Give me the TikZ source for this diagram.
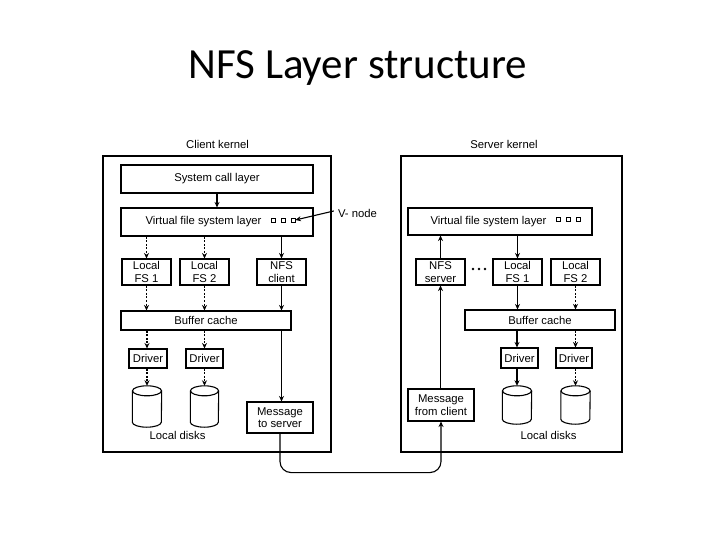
\documentclass[tikz,border=0pt]{standalone}
\usepackage{fontspec}
\setmainfont{Liberation Sans}
\newfontfamily\titlefont{Carlito}
\usetikzlibrary{arrows.meta,calc}
\newcommand\dfont{\fontsize{11.3}{12.5}\selectfont}
\newcommand\drawdisk[2]{%
  \draw[line width=1.1pt] ($(#1.north)+(0,5)$) ellipse [x radius=#2pt, y radius=5pt];
  \draw[line width=1.1pt] ($(#1.north west)+(0,5)$) -- ($(#1.south west)+(0,-5)$)
     arc [start angle=180, end angle=360, x radius=#2pt, y radius=5pt] -- ($(#1.north east)+(0,5)$);}
\begin{document}
\begin{tikzpicture}[x=1pt,y=-1pt,
  box/.style={draw, line width=1.1pt, inner sep=0pt, align=center, font=\dfont},
  kernel/.style={draw, line width=1.3pt, inner sep=0pt},
  txt/.style={inner sep=0pt, font=\dfont, anchor=base},
  disk/.style={inner sep=0pt},
  sq/.style={draw, line width=0.9pt, minimum width=4pt, minimum height=4pt, inner sep=0pt},
  arr/.style={-{Stealth[length=5.5pt,width=5pt]}, line width=1.1pt},
  darr/.style={arr, dash pattern=on 2pt off 1.6pt}]
\useasboundingbox[fill=white] (0,0) rectangle (720,540);

% title
\node[inner sep=0pt, anchor=base, font=\titlefont\fontsize{43}{50}\selectfont] (title) at (358,79) {NFS Layer structure};

% ---------------- client ----------------
\node[kernel, minimum width=228pt, minimum height=296pt] (ck) at (217,304) {};
\node[txt] (ckl) at (217.5,149) {Client kernel};
\node[box, minimum width=192pt, minimum height=28pt] (sys) at (217,179) {System call layer};
\node[box, minimum width=192pt, minimum height=28pt] (vfs) at (217,222) {};
\node[txt] (vfst) at (203.5,225) {Virtual file system layer};
\node[sq] (c1) at (273,220) {};
\node[sq] (c2) at (283,220) {};
\node[sq] (c3) at (293,220) {};
\node[txt] (vnode) at (357.5,218) {V- node};
\node[box, minimum width=49pt, minimum height=26pt] (lfs1) at (146.5,272) {Local\\FS 1};
\node[box, minimum width=49pt, minimum height=26pt] (lfs2) at (204.5,272) {Local\\FS 2};
\node[box, minimum width=49pt, minimum height=26pt] (nfsc) at (281.5,272) {NFS\\client};
\node[box, minimum width=170pt, minimum height=19pt] (buf) at (206,320.5) {Buffer cache};
\node[box, minimum width=38pt, minimum height=19pt] (drv1) at (148,358.5) {Driver};
\node[box, minimum width=37pt, minimum height=19pt] (drv2) at (204.5,358.5) {Driver};
\node[disk, minimum width=29pt, minimum height=41pt] (dk1) at (147,406.5) {};
\node[disk, minimum width=28pt, minimum height=41pt] (dk2) at (204.5,406.5) {};
\drawdisk{dk1}{14.5}
\drawdisk{dk2}{14}
\node[txt] (cld) at (177.5,439) {Local disks};
\node[box, minimum width=66pt, minimum height=31pt] (msgs) at (280,417.5) {Message\\to server};

\draw[arr] (sys.south) -- (vfs.north);
\draw[arr] ($(vnode.west)+(-4,-3)$) -- (c3.east);
\draw[darr] (lfs1.north |- vfs.south) -- (lfs1.north);
\draw[darr] (lfs2.north |- vfs.south) -- (lfs2.north);
\draw[arr] (nfsc.north |- vfs.south) -- (nfsc.north);
\draw[darr] (lfs1.south) -- (lfs1.south |- buf.north);
\draw[darr] (lfs2.south) -- (lfs2.south |- buf.north);
\draw[arr] (nfsc.south) -- (nfsc.south |- buf.north);
\draw[arr] (nfsc.south |- buf.south) -- (nfsc.south |- msgs.north);
\draw[darr] (dk1.north |- buf.south) -- (dk1.north |- drv1.north);
\draw[darr] (dk2.north |- buf.south) -- (dk2.north |- drv2.north);
\draw[darr] (dk1.north |- drv1.south) -- (dk1.north);
\draw[darr] (dk2.north |- drv2.south) -- (dk2.north);

% ---------------- server ----------------
\node[kernel, minimum width=221pt, minimum height=296pt] (sk) at (511.5,304) {};
\node[txt] (skl) at (504,149) {Server kernel};
\node[box, minimum width=184pt, minimum height=27pt] (svfs) at (500,221.5) {};
\node[txt] (svfst) at (488.5,225) {Virtual file system layer};
\node[sq] (s1) at (558,219) {};
\node[sq] (s2) at (568,219) {};
\node[sq] (s3) at (578,219) {};
\node[box, minimum width=49pt, minimum height=26pt] (nfss) at (440.5,272) {NFS\\server};
\node[inner sep=0pt, minimum width=14pt, minimum height=4pt] (dots) at (479,269) {};
\foreach \dx in {-6,0,6} \fill ($(dots.center)+(\dx,0)$) circle (1.4pt);
\node[box, minimum width=49pt, minimum height=26pt] (slfs1) at (517.5,272) {Local\\FS 1};
\node[box, minimum width=49pt, minimum height=26pt] (slfs2) at (575.5,272) {Local\\FS 2};
\node[box, minimum width=150pt, minimum height=20pt] (sbuf) at (540,320) {Buffer cache};
\node[box, minimum width=37pt, minimum height=20pt] (sdrv1) at (519.5,358) {Driver};
\node[box, minimum width=36pt, minimum height=20pt] (sdrv2) at (574,358) {Driver};
\node[disk, minimum width=29pt, minimum height=38pt] (sdk1) at (517,405) {};
\node[disk, minimum width=29pt, minimum height=38pt] (sdk2) at (575.5,405) {};
\drawdisk{sdk1}{14.5}
\drawdisk{sdk2}{14.5}
\node[txt] (sld) at (548.5,439) {Local disks};
\node[box, minimum width=66pt, minimum height=32pt] (msgc) at (441,405) {Message\\from client};

\draw[arr] (nfss.south |- msgc.north) -- (nfss.south);
\draw[arr] (nfss.north) -- (nfss.north |- svfs.south);
\draw[arr] (slfs1.north |- svfs.south) -- (slfs1.north);
\draw[arr] (slfs1.south) -- (slfs1.south |- sbuf.north);
\draw[darr] (slfs2.south) -- (slfs2.south |- sbuf.north);
\draw[arr] (sdk1.north |- sbuf.south) -- (sdk1.north |- sdrv1.north);
\draw[darr] (sdk2.north |- sbuf.south) -- (sdk2.north |- sdrv2.north);
\draw[arr] (sdk1.north |- sdrv1.south) -- (sdk1.north);
\draw[darr] (sdk2.north |- sdrv2.south) -- (sdk2.north);

% network connection
\draw[arr, rounded corners=11pt] (msgs.south) -- ++(0,39) -| (msgc.south);
\end{tikzpicture}
\end{document}
